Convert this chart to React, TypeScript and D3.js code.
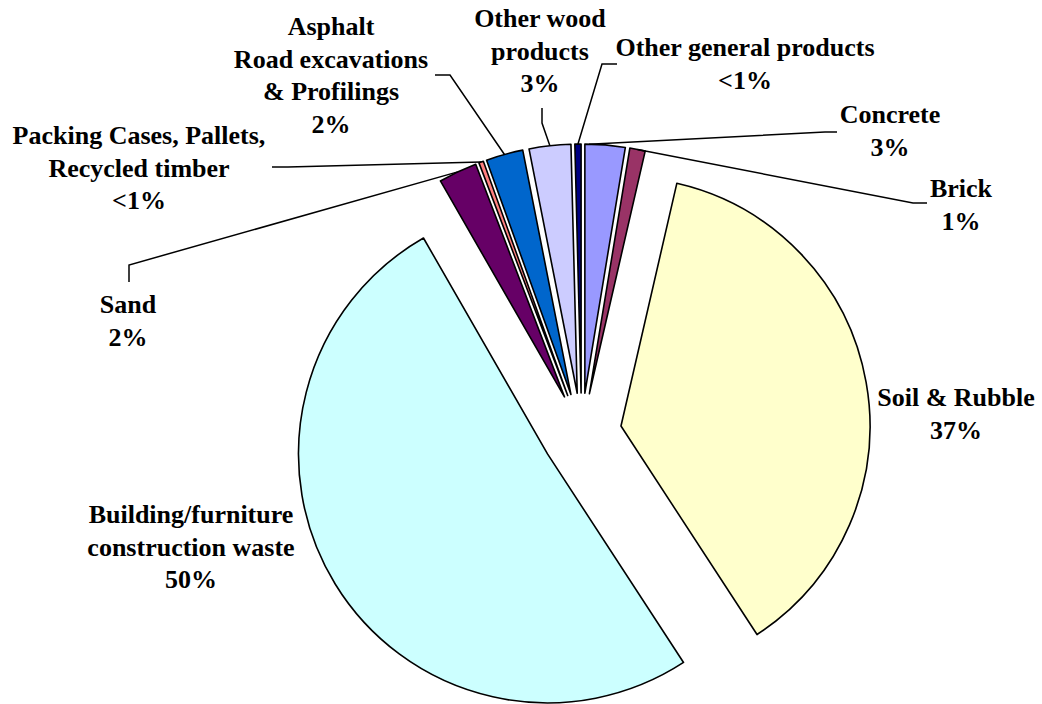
import React from 'react';
import * as d3 from 'd3';

// slices, clockwise from 12 o'clock (Excel order)
const categories = [
  'Concrete',
  'Brick',
  'Soil & Rubble',
  'Building/furniture construction waste',
  'Sand',
  'Packing Cases, Pallets, Recycled timber',
  'Asphalt Road excavations & Profilings',
  'Other wood products',
  'Other general products',
];
const values = [2.6, 1.0, 37.2, 50.9, 2.5, 0.3, 2.4, 2.7, 0.4];
const pctLabels = ['3%', '1%', '37%', '50%', '2%', '<1%', '2%', '3%', '<1%'];
const labelLines = [
  ['Concrete'],
  ['Brick'],
  ['Soil & Rubble'],
  ['Building/furniture', 'construction waste'],
  ['Sand'],
  ['Packing Cases, Pallets,', 'Recycled timber'],
  ['Asphalt', 'Road excavations', '& Profilings'],
  ['Other wood', 'products'],
  ['Other general products'],
];
const colors = ['#9999FF', '#993366', '#FFFFCC', '#CCFFFF', '#660066', '#FF8080', '#0066CC', '#CCCCFF', '#000080'];

// label placement: centre x, first baseline, leader line (label end + elbow), anchor along arc
type Lay = {x: number; y: number; lead?: [number, number][]; frac?: number};
const layout: Lay[] = [
  {x: 890, y: 123, lead: [[837, 132], [825, 132]], frac: 0.1},
  {x: 961, y: 197, lead: [[927, 203], [913, 203]]},
  {x: 956, y: 406},
  {x: 191, y: 523},
  {x: 128, y: 313, lead: [[129, 282], [129, 265]]},
  {x: 139, y: 144, lead: [[272, 167], [288, 167]]},
  {x: 331, y: 35, lead: [[435, 75], [450, 75]]},
  {x: 540, y: 27, lead: [[542, 108], [542, 123]]},
  {x: 745, y: 56, lead: [[617, 64], [602, 64]]},
];

const W = 1042, H = 704;
const cx = 581.6, cy = 433, R = 249, explode = 40;
const lineH = 32.5;

export default function App() {
  const pie = d3.pie<number>().sort(null).value(d => d).startAngle(0).endAngle(2 * Math.PI);
  const arcs = pie(values);
  const arc = d3.arc<d3.PieArcDatum<number>>().innerRadius(0).outerRadius(R);

  // every slice is pulled out along its bisector
  const offset = (a: d3.PieArcDatum<number>) => {
    const m = (a.startAngle + a.endAngle) / 2;
    return [explode * Math.sin(m), -explode * Math.cos(m)];
  };

  return (
    <svg width={W} height={H} style={{position: 'absolute', left: 0, top: 0, background: '#fff'}}>
      <g transform={`translate(${cx},${cy})`}>
        {arcs.map((a, i) => {
          const [dx, dy] = offset(a);
          return (
            <path
              key={categories[i]}
              d={arc(a) || ''}
              transform={`translate(${dx},${dy})`}
              fill={colors[i]}
              stroke="#000"
              strokeWidth={1.6}
              strokeLinejoin="round"
            />
          );
        })}
      </g>
      {arcs.map((a, i) => {
        const l = layout[i];
        if (!l.lead) return null;
        const [dx, dy] = offset(a);
        const f = l.frac ?? 0.5;
        const ang = a.startAngle + (a.endAngle - a.startAngle) * f;
        const px = cx + dx + R * Math.sin(ang);
        const py = cy + dy - R * Math.cos(ang);
        const pts = [...l.lead, [px, py]];
        return (
          <polyline
            key={'lead' + i}
            points={pts.map(p => p.join(',')).join(' ')}
            fill="none"
            stroke="#000"
            strokeWidth={1.5}
          />
        );
      })}
      {layout.map((l, i) => {
        const lines = [...labelLines[i], pctLabels[i]];
        return (
          <text
            key={'lbl' + i}
            x={l.x}
            y={l.y}
            textAnchor="middle"
            style={{fontFamily: 'Liberation Serif', fontWeight: 700, fontSize: '26px'}}
            fill="#000"
          >
            {lines.map((t, j) => (
              <tspan key={j} x={l.x} y={l.y + j * lineH}>
                {t}
              </tspan>
            ))}
          </text>
        );
      })}
    </svg>
  );
}
